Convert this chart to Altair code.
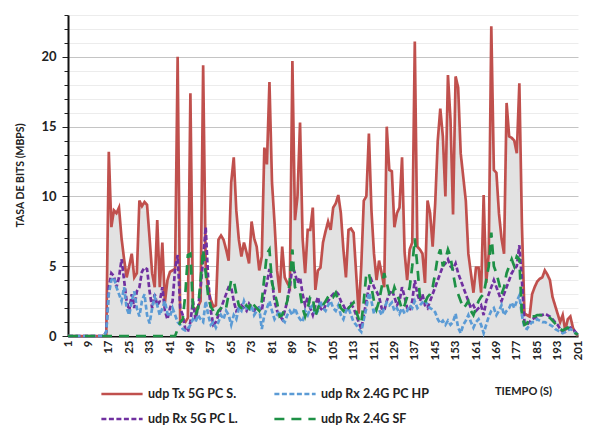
import altair as alt
import pandas as pd

# ---------------- data ----------------
time_s = list(range(1, 202))

tx_5g_pc_s = [
    0, 0, 0, 0, 0, 0, 0, 0, 0, 0,
    0, 0, 0, 0, 0, 0, 13.2, 7.8, 9.0, 8.8,
    9.2, 7.0, 5.5, 4.2, 5.0, 5.9, 4.2, 4.5, 9.7, 9.3,
    9.6, 9.4, 7.0, 4.5, 3.5, 8.3, 3.5, 6.7, 2.4, 4.0,
    4.6, 4.7, 4.8, 20.0, 1.0, 1.1, 1.0, 1.3, 17.4, 2.0,
    1.9, 2.1, 2.5, 19.4, 5.0, 3.3, 2.6, 2.1, 2.2, 6.9,
    7.2, 6.9, 6.2, 5.4, 11.0, 12.8, 9.0, 6.9, 5.7, 6.7,
    6.0, 5.2, 8.2, 7.0, 6.4, 4.7, 5.7, 13.5, 12.3, 18.2,
    11.0, 8.1, 4.7, 3.1, 6.4, 4.2, 3.8, 3.5, 19.7, 8.3,
    10.0, 15.3, 7.0, 4.5, 7.6, 7.6, 9.2, 3.3, 4.7, 4.9,
    6.7, 7.5, 8.2, 7.6, 9.2, 9.5, 10.1, 8.8, 6.2, 4.2,
    7.6, 7.7, 7.4, 4.5, 1.6, 5.0, 9.7, 10.0, 14.5, 9.0,
    5.9, 4.0, 5.4, 4.5, 3.5, 15.0, 11.9, 11.8, 7.8, 8.8,
    9.2, 12.8, 6.0, 4.0, 6.2, 6.7, 21.1, 6.4, 6.2, 5.9,
    3.8, 9.7, 8.8, 6.4, 9.5, 14.0, 16.3, 14.3, 10.0, 18.7,
    15.5, 8.7, 18.6, 17.8, 13.1, 11.4, 9.7, 5.9, 4.5, 3.1,
    4.9, 4.9, 3.1, 10.1, 3.8, 5.9, 22.2, 11.9, 11.7, 8.8,
    7.0, 5.9, 16.7, 14.3, 14.2, 14.0, 13.1, 18.1, 8.0, 1.6,
    1.5, 1.4, 3.0, 3.5, 3.9, 4.1, 4.2, 4.7, 4.4, 4.0,
    2.8, 2.2, 1.6, 1.0, 1.5, 0.4, 1.2, 1.4, 0.6, 0.2,
    0.0,
]

rx_24g_pc_hp = [
    0, 0, 0, 0, 0, 0, 0, 0, 0, 0,
    0, 0, 0, 0, 0, 0.3, 3.0, 4.0, 4.2, 3.5,
    3.0, 2.5, 3.5, 2.0, 1.5, 2.5, 3.2, 2.0, 1.4, 2.5,
    3.0, 1.5, 0.9, 2.0, 2.8, 2.2, 1.5, 2.0, 2.5, 1.6,
    1.4, 2.0, 1.5, 1.0, 0.8, 0.5, 0.4, 0.5, 0.8, 1.2,
    1.0, 1.5, 1.2, 1.0, 2.5, 1.5, 0.8, 1.0, 0.6, 1.0,
    1.5, 1.2, 1.8, 1.5, 0.8, 1.5, 1.2, 2.0, 1.8, 2.5,
    2.0, 1.8, 2.2, 1.5, 1.8, 2.0, 0.5, 1.5, 2.0, 2.5,
    1.8, 1.2, 1.5, 1.8, 1.2, 1.0, 1.5, 1.8, 1.5, 2.0,
    1.5, 1.2, 1.0, 1.8, 1.5, 2.0, 2.2, 1.5, 1.8, 2.5,
    2.0, 1.8, 2.2, 2.5, 2.0, 1.8, 2.2, 1.5, 1.2, 1.8,
    2.0, 1.5, 1.0, 0.8, 0.5, 0.3, 1.2, 2.0, 3.1, 2.5,
    1.6, 2.0, 1.9, 1.5, 2.0, 2.4, 2.2, 2.4, 1.8, 2.0,
    1.6, 2.0, 1.6, 1.8, 2.2, 2.0, 2.5, 2.0, 2.2, 2.4,
    2.6, 2.2, 2.0, 1.9, 1.7, 1.2, 0.9, 1.1, 0.8, 1.1,
    0.8, 1.0, 1.6, 0.6, 0.2, 0.8, 1.1, 1.5, 1.0, 0.6,
    1.0, 1.2, 0.8, 0.2, 0.8, 1.4, 1.8, 2.0, 1.5, 1.8,
    2.2, 1.5, 1.8, 2.0, 2.4, 2.0, 2.5, 2.9, 1.5, 0.6,
    0.5, 0.8, 1.0, 1.0, 1.2, 1.1, 1.0, 1.0, 0.9, 0.8,
    0.7, 0.5, 0.4, 0.3, 0.2, 0.3, 0.4, 0.5, 0.4, 0.2,
    0.1,
]

rx_5g_pc_l = [
    0, 0, 0, 0, 0, 0, 0, 0, 0, 0,
    0, 0, 0, 0, 0, 0.3, 3.5, 4.5, 4.3, 3.5,
    4.2, 5.5, 4.0, 2.5, 1.8, 3.0, 2.0, 3.2, 3.5, 4.6,
    4.9, 4.8, 3.2, 2.0, 3.0, 2.2, 2.5, 3.5, 1.8, 1.2,
    2.0, 2.5, 4.8, 5.8, 2.0, 1.5, 0.5, 0.3, 1.0, 2.5,
    1.2, 2.0, 3.5, 5.5, 7.8, 4.0, 1.8, 0.8, 1.0, 1.5,
    2.0, 2.5, 3.0, 3.5, 3.5, 2.5, 1.8, 2.0, 2.2, 2.0,
    1.8, 2.3, 2.0, 1.8, 2.1, 2.0, 1.8, 3.0, 3.8, 4.8,
    4.0, 2.5, 1.8, 1.5, 1.2, 1.8, 2.5, 3.5, 5.0, 4.5,
    3.8, 4.2, 3.0, 2.2, 2.8, 2.0, 1.5, 2.2, 2.8, 2.0,
    1.8, 2.2, 2.5, 2.8, 3.0, 3.2, 3.0, 2.5, 2.2, 1.8,
    2.0, 2.3, 2.0, 1.5, 1.0, 0.5, 1.5, 2.5, 3.5, 4.0,
    3.5, 3.2, 2.8, 2.0, 1.8, 2.5, 3.0, 3.3, 2.8, 2.2,
    2.5, 3.5, 2.8, 2.0, 1.8, 2.5, 4.0, 3.0, 2.5, 3.0,
    2.2, 2.0, 2.5, 3.0, 3.5, 4.0, 4.5, 5.0, 5.2, 5.5,
    5.0, 4.8, 5.2, 4.5, 4.0, 3.5, 3.0, 2.5, 2.0, 2.2,
    1.8, 2.0, 2.2, 1.5, 2.5, 3.0, 3.5, 4.0, 3.5, 3.0,
    2.5, 3.0, 3.5, 4.0, 4.5, 4.8, 5.0, 6.5, 4.0, 1.0,
    0.8, 1.0, 1.2, 1.3, 1.4, 1.5, 1.5, 1.6, 1.5, 1.4,
    1.2, 1.0, 0.8, 0.5, 0.3, 0.3, 0.5, 0.6, 0.5, 0.3,
    0.1,
]

rx_24g_sf = [
    0, 0, 0, 0, 0, 0, 0, 0, 0, 0,
    0, 0, 0, 0, 0, 0, 0, 0, 0, 0,
    0, 0, 0, 0, 0, 0, 0, 0, 0, 0,
    0, 0, 0, 0, 0, 0, 0, 0, 0, 0,
    0, 0, 0, 0.5, 1.0, 1.2, 3.0, 5.8, 5.9, 2.1,
    1.5, 2.0, 4.0, 6.2, 4.5, 2.8, 2.1, 1.8, 1.4, 1.8,
    2.0, 2.2, 2.0, 3.0, 4.0, 4.0, 3.0, 2.2, 2.0, 1.8,
    2.2, 2.0, 2.5, 2.2, 2.0, 1.8, 2.5, 4.2, 5.9, 6.2,
    3.8, 3.1, 2.4, 1.4, 1.5, 2.0, 2.5, 4.0, 6.2, 3.5,
    3.2, 3.1, 2.0, 1.4, 2.0, 2.8, 2.8, 1.4, 2.0, 2.4,
    2.2, 2.5, 2.8, 3.0, 2.8, 3.1, 2.5, 2.0, 1.8, 2.2,
    2.0, 2.2, 2.4, 1.8, 1.2, 0.9, 2.5, 4.5, 4.5, 3.5,
    2.5, 1.9, 2.5, 3.5, 4.5, 3.8, 3.0, 2.8, 3.5, 3.0,
    2.5, 1.9, 2.2, 2.8, 3.5, 5.0, 7.0, 5.0, 2.8, 2.5,
    2.4, 2.8, 3.0, 3.5, 4.5, 5.7, 6.2, 5.0, 5.5, 6.2,
    5.7, 4.5, 3.5, 3.0, 2.5, 2.0, 2.2, 2.5, 1.8, 1.5,
    2.0, 2.5, 2.8, 3.0, 4.0, 5.0, 7.4, 5.0, 4.5, 3.8,
    3.0, 3.5, 4.5, 5.0, 5.5, 5.0, 5.7, 5.5, 1.5, 0.8,
    0.9, 1.3, 1.4, 1.4, 1.5, 1.5, 1.5, 1.5, 1.4, 1.3,
    1.1, 0.9, 0.7, 0.5, 0.4, 0.5, 0.6, 0.5, 0.4, 0.2,
    0.1,
]

# legend is laid out column by column: Tx / Rx 5G on the left, Rx 2.4G on the right
series_names = ["udp Tx 5G PC S.", "udp Rx 5G PC L.", "udp Rx 2.4G PC HP", "udp Rx 2.4G SF"]
series_values = [tx_5g_pc_s, rx_5g_pc_l, rx_24g_pc_hp, rx_24g_sf]
series_colors = ["#C0504D", "#7030A0", "#5B9BD5", "#1E9146"]
series_dashes = [[1, 0], [5, 2.5], [5, 2.5], [10, 7]]

x_ticks = list(range(1, 202, 8))
y_ticks = list(range(0, 24))  # every unit: minor grid/ticks, labels at multiples of 5

# ---------------- tables ----------------
rows = []
for name, vals in zip(series_names, series_values):
    for t, v in zip(time_s, vals):
        rows.append({"t": t, "v": v, "series": name})
df = pd.DataFrame(rows)
area_df = pd.DataFrame({"t": time_s, "v": tx_5g_pc_s})

FONT = "Lato"
y_scale = alt.Scale(domain=[0, 23], nice=False, zero=True)
x_scale = alt.Scale(domain=[1, 201], nice=False, zero=False)

x_axis = alt.Axis(
    values=x_ticks,
    labelAngle=270,
    labelFont=FONT,
    labelFontSize=11.5,
    labelFontWeight="bold",
    labelColor="#222222",
    labelPadding=4,
    labelOverlap=False,
    ticks=False,
    grid=False,
    domainColor="#111111",
    domainWidth=2,
    titleFont=FONT,
    titleFontSize=11,
    titleFontWeight="bold",
    titleColor="#222222",
    titleX=455,
    titleY=49,
)

y_axis = alt.Axis(
    values=y_ticks,
    labelExpr="datum.value % 5 === 0 ? datum.label : ''",
    labelFont=FONT,
    labelFontSize=13,
    labelFontWeight="bold",
    labelColor="#222222",
    labelPadding=6,
    tickSize=alt.condition("datum.value % 5 === 0", alt.value(6), alt.value(4)),
    tickColor="#222222",
    domainColor="#111111",
    domainWidth=2,
    grid=True,
    gridColor=alt.condition("datum.value % 5 === 0", alt.value("#c4c4c4"), alt.value("#ececec")),
    gridWidth=1,
    titleFont=FONT,
    titleFontSize=10.5,
    titleFontWeight="bold",
    titleColor="#222222",
    titleX=-43,
    titleY=160,
)

x_enc = alt.X("t:Q", scale=x_scale, title="TIEMPO (S)", axis=x_axis)
y_enc = alt.Y("v:Q", scale=y_scale, title="TASA DE BITS (MBPS)", axis=y_axis)

area = alt.Chart(area_df).mark_area(color="#e2e2e2", opacity=1).encode(x=x_enc, y=y_enc)

legend = alt.Legend(
    title=None,
    orient="none",
    legendX=32,
    legendY=372,
    columns=2,
    symbolType="stroke",
    symbolSize=1700,
    symbolStrokeWidth=2.5,
    labelFont=FONT,
    labelFontSize=12.5,
    labelFontWeight="bold",
    labelColor="#222222",
    labelOffset=4,
    columnPadding=35,
    rowPadding=11,
    clipHeight=14,
)

lines = alt.Chart(df).mark_line(strokeWidth=2.7).encode(
    x=x_enc,
    y=y_enc,
    color=alt.Color(
        "series:N",
        scale=alt.Scale(domain=series_names, range=series_colors),
        sort=series_names,
        legend=legend,
    ),
    strokeDash=alt.StrokeDash(
        "series:N",
        scale=alt.Scale(domain=series_names, range=series_dashes),
        sort=series_names,
        legend=legend,
    ),
)

chart = (
    alt.layer(area, lines)
    .properties(
        width=510,
        height=321,
        autosize=alt.AutoSizeParams(type="none"),
        padding={"left": 68, "top": 15, "right": 12, "bottom": 96},
        background="white",
    )
    .configure_view(stroke=None)
)

chart.save("out.html", embed_options={"renderer": "svg", "actions": False})
